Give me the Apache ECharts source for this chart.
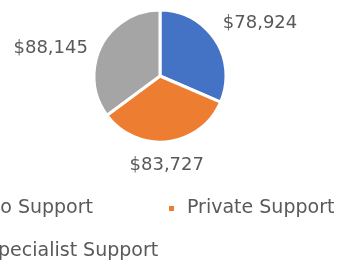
<!DOCTYPE html>
<html>
<head>
<meta charset="utf-8">
<script src="https://cdn.jsdelivr.net/npm/echarts@6/dist/echarts.min.js"></script>
<style>
  html, body { margin: 0; padding: 0; background: #fff; }
  #chart { width: 341px; height: 271px; }
</style>
</head>
<body>
<div id="chart"></div>
<script>
// values
const categories = ['No Support', 'Private Support', 'Specialist Support'];
const amounts = [78924, 83727, 88145];
const colors = ['#4472C4', '#ED7D31', '#A5A5A5'];

// small nudges so the labels sit where Excel put them
const labelNudge = [[-4, -12], [-44, 16], [-1, 6]];

const textColor = '#595959';
const font = 'DejaVu Sans';

let mychart = echarts.init(document.getElementById('chart'));

const option = {
    animation: false,
    color: colors,
    legend: {
        data: categories,
        left: -34,
        top: 197,
        width: 420,
        padding: 0,
        itemGap: 20,
        itemWidth: 7,
        itemHeight: 7,
        icon: 'rect',
        textStyle: {
            color: textColor,
            fontFamily: font,
            fontSize: 19,
            width: 161,
            lineHeight: 23,
            padding: [0, 0, 0, 7]
        }
    },
    series: [
        {
            type: 'pie',
            center: [160, 76],
            radius: 66,
            startAngle: 90,
            clockwise: true,
            itemStyle: {
                borderColor: '#fff',
                borderWidth: 3
            },
            label: {
                show: true,
                position: 'outside',
                color: textColor,
                fontFamily: font,
                fontSize: 18,
                formatter: (p) => '$' + p.value.toLocaleString('en-US')
            },
            labelLine: {
                show: false,
                length: 8,
                length2: 0
            },
            labelLayout: (p) => ({
                dx: labelNudge[p.dataIndex][0],
                dy: labelNudge[p.dataIndex][1]
            }),
            data: categories.map((name, i) => ({ name: name, value: amounts[i] }))
        }
    ]
};

mychart.setOption(option);
</script>
</body>
</html>
